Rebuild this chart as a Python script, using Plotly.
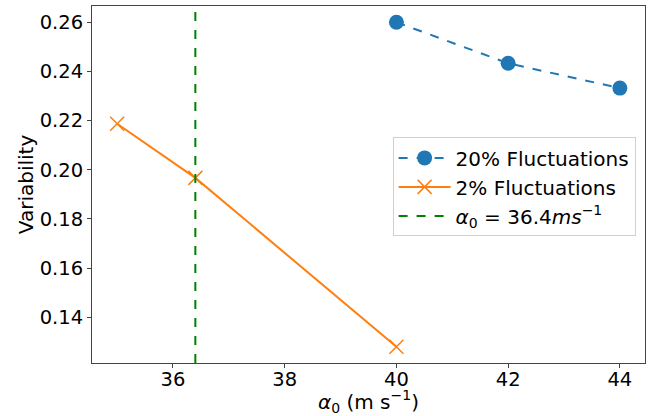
import plotly.graph_objects as go

# data
alpha_20 = [40, 42, 44]
var_20 = [0.260, 0.2433, 0.2332]
alpha_2 = [35, 36.4, 40]
var_2 = [0.2187, 0.1967, 0.128]
alpha_ref = 36.4

x_ticks = [36, 38, 40, 42, 44]
y_ticks = [0.14, 0.16, 0.18, 0.20, 0.22, 0.24, 0.26]

font = "DejaVu Sans"

fig = go.Figure()
fig.add_trace(go.Scatter(
    x=alpha_20, y=var_20, mode="lines+markers", name="20% Fluctuations",
    line=dict(color="#1f77b4", width=2, dash="dash"),
    marker=dict(symbol="circle", size=15, color="#1f77b4"),
    legendrank=1,
))
fig.add_trace(go.Scatter(
    x=alpha_2, y=var_2, mode="lines+markers", name="2% Fluctuations",
    line=dict(color="#ff7f0e", width=2),
    marker=dict(symbol="x-thin", size=14, line=dict(color="#ff7f0e", width=1.5)),
    legendrank=2,
))
fig.add_vline(
    x=alpha_ref, line=dict(color="#008000", width=2, dash="dash"),
    showlegend=True, name="<i>α</i><sub>0</sub> = 36.4<i>ms</i><sup>−1</sup>",
    legendrank=3,
)

fig.update_layout(
    width=656, height=416,
    margin=dict(l=92, r=11, t=6, b=53, autoexpand=False),
    paper_bgcolor="white", plot_bgcolor="white",
    font=dict(family=font, size=19.5, color="black"),
    showlegend=True,
    legend=dict(
        x=0.983, xanchor="right", y=0.632, yanchor="top",
        bgcolor="rgba(255,255,255,0.8)", bordercolor="#d0d0d0", borderwidth=1,
        font=dict(size=20), tracegroupgap=0, itemwidth=52,
    ),
    xaxis=dict(
        range=[34.55, 44.45], tickvals=x_ticks, showgrid=False, zeroline=False,
        showline=True, linecolor="#444", linewidth=1, mirror=True,
        ticks="outside", ticklen=4, tickcolor="#444", automargin=False,
        ticklabelstandoff=-5,
        title=dict(text="<i>α</i><sub>0</sub> (m s<sup>−1</sup>)", standoff=0, font=dict(size=20)),
    ),
    yaxis=dict(
        range=[0.1214, 0.2666], tickvals=y_ticks, tickformat=".2f",
        showgrid=False, zeroline=False,
        showline=True, linecolor="#444", linewidth=1, mirror=True,
        ticks="outside", ticklen=4, tickcolor="#444", automargin=False,
        title=dict(text="Variability", standoff=0, font=dict(size=20)),
    ),
)

fig.write_html("out.html", config={"displayModeBar": False},
               post_script="document.body.style.margin='0';")
